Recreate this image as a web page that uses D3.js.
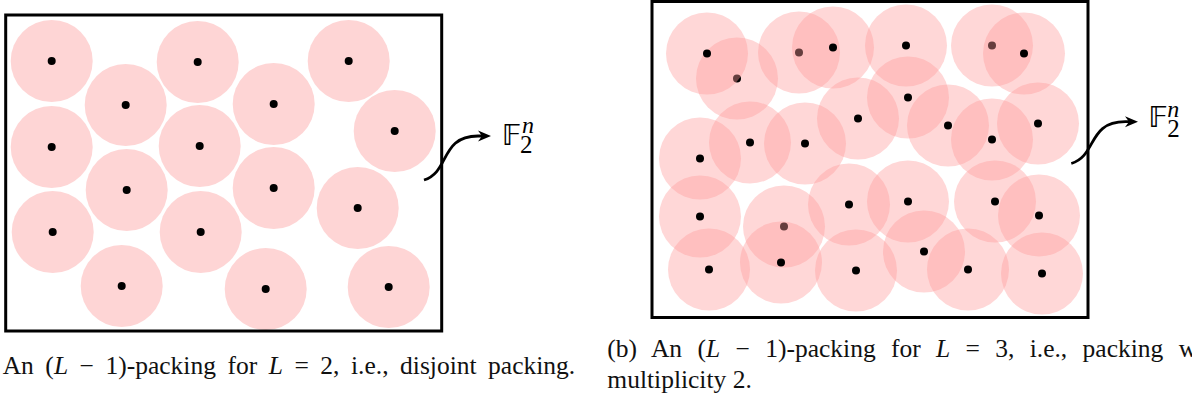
<!DOCTYPE html>
<html><head><meta charset="utf-8">
<script src="https://cdn.jsdelivr.net/npm/d3@7"></script>
<style>html,body{margin:0;padding:0;background:#fff;overflow:hidden}</style>
</head><body><svg id="c" width="1192" height="401"></svg>
<script>
// ---- data (centres in box units; box is 436 x 316 units) ----
const boxSize = [436, 316];
const ballRadius = 41;
const leftCentres = [[46,46],[120,90],[192,47],[268,89],[343,46],[389,116],[46,132],[194,131],[121,175],[268,173],[352,193],[47,217],[195,217],[116,271],[260,274],[383,272]];
const rightLowerCentres = [[85,77],[147,51],[340,44],[132,225]];
const rightUpperCentres = [[55,52],[181,46],[254,44],[372,52],[256,96],[206,117],[296,124],[340,138],[386,122],[98,141],[153,142],[48,157],[48,215],[197,203],[256,200],[343,200],[387,214],[57,268],[129,261],[204,269],[272,250],[316,268],[390,272]];
const spaceSymbol = "\u{1D53D}";
const spaceSub = "2";
const spaceSup = "n";
const captionLeft = [["An (",0],["L",1],[" \u2212 1)-packing for ",0],["L",1],[" = 2, i.e., disjoint packing.",0]];
const captionRight1 = [["(b) An (",0],["L",1],[" \u2212 1)-packing for ",0],["L",1],[" = 3, i.e., packing",0]];
const captionRight1Tail = " with";
const captionRight2 = [["multiplicity 2.",0]];

// ---- layout ----
const svg = d3.select("#c");
const panels = [
  {x0:5.7, y0:15, label:{F:[60,130], n:[80.3,118], s:[78.3,137.5]}, arrow:{s:[-17.7,165], e:[49.3,121]}},
  {x0:652, y0:1.5, label:{F:[60.3,125.5], n:[79.3,115.2], s:[79.3,135.2]}, arrow:{s:[-16.7,162], e:[50,120.2]}}
];

function panelScales(p){
  return {
    x: d3.scaleLinear().domain([0, boxSize[0]]).range([p.x0, p.x0 + boxSize[0]]),
    y: d3.scaleLinear().domain([0, boxSize[1]]).range([p.y0, p.y0 + boxSize[1]])
  };
}

function drawBalls(g, s, data, fill, opacity){
  const r = s.x(ballRadius) - s.x(0);
  const grp = g.append("g");
  grp.selectAll("circle.ball").data(data).join("circle").attr("class","ball")
    .attr("cx", d=>s.x(d[0])).attr("cy", d=>s.y(d[1])).attr("r", r)
    .attr("fill", fill).attr("fill-opacity", opacity);
  return grp;
}
function drawDots(g, s, data){
  g.append("g").selectAll("circle.dot").data(data).join("circle").attr("class","dot")
    .attr("cx", d=>s.x(d[0])).attr("cy", d=>s.y(d[1])).attr("r", 4).attr("fill", "#000");
}

function drawFrame(g, s, p){
  g.append("rect").attr("x", s.x(0)).attr("y", s.y(0))
    .attr("width", s.x(boxSize[0]) - s.x(0)).attr("height", s.y(boxSize[1]) - s.y(0))
    .attr("fill","none").attr("stroke","#000").attr("stroke-width",3);
  const cx = s.x(boxSize[0]), cy = s.y(0);
  const S = [cx + p.arrow.s[0], cy + p.arrow.s[1]];
  const E = [cx + p.arrow.e[0], cy + p.arrow.e[1]];
  const path = d3.path();
  path.moveTo(S[0], S[1]);
  path.bezierCurveTo(S[0]+26, S[1]-8, S[0]+16, E[1], S[0]+54, E[1]);
  path.lineTo(E[0]-8, E[1]);
  g.append("path").attr("d", path.toString()).attr("fill","none").attr("stroke","#000").attr("stroke-width",2.8);
  g.append("path").attr("d", `M${E[0]},${E[1]} L${E[0]-13},${E[1]-5.5} L${E[0]-9},${E[1]} L${E[0]-13},${E[1]+5.5} Z`).attr("fill","#000");
  const L = p.label;
  g.append("text").attr("x", cx+L.F[0]).attr("y", cy+L.F[1]).attr("font-family","DejaVu Sans").attr("font-size",29).text(spaceSymbol);
  g.append("text").attr("x", cx+L.n[0]).attr("y", cy+L.n[1]).attr("font-family","Liberation Serif").attr("font-style","italic").attr("font-size",24).text(spaceSup);
  g.append("text").attr("x", cx+L.s[0]).attr("y", cy+L.s[1]).attr("font-family","Liberation Serif").attr("font-size",25).text(spaceSub);
}

// left panel
{
  const p = panels[0], s = panelScales(p), g = svg.append("g");
  drawBalls(g, s, leftCentres, "#fed5d5", 1);
  drawDots(g, s, leftCentres);
  drawFrame(g, s, p);
}
// right panel
{
  const p = panels[1], s = panelScales(p), g = svg.append("g");
  drawBalls(g, s, rightLowerCentres, "#ff9a9a", 0.4);
  drawDots(g, s, rightLowerCentres);
  drawBalls(g, s, rightUpperCentres, "#ff9a9a", 0.4);
  drawDots(g, s, rightUpperCentres);
  drawFrame(g, s, p);
}

// captions
function caption(segs, x, y, targetWidth, tail){
  const t = svg.append("text").attr("x", x).attr("y", y)
    .attr("font-family","Liberation Serif, Times New Roman, serif").attr("font-size",25.5).attr("fill","#111");
  segs.forEach(([str, it]) => {
    const ts = t.append("tspan").text(str);
    if (it) ts.attr("font-style","italic");
  });
  if (targetWidth){
    const nat = t.node().getComputedTextLength();
    const full = segs.map(d=>d[0]).join("");
    const n = (full.match(/ /g) || []).length;
    t.attr("word-spacing", (targetWidth - nat) / n);
  }
  if (tail) t.append("tspan").text(tail);
  return t;
}
caption(captionLeft, 2.7, 374, 572.5);
caption(captionRight1, 607.3, 357.3, 556, captionRight1Tail);
caption(captionRight2, 607.3, 387.5, null);
</script></body></html>
